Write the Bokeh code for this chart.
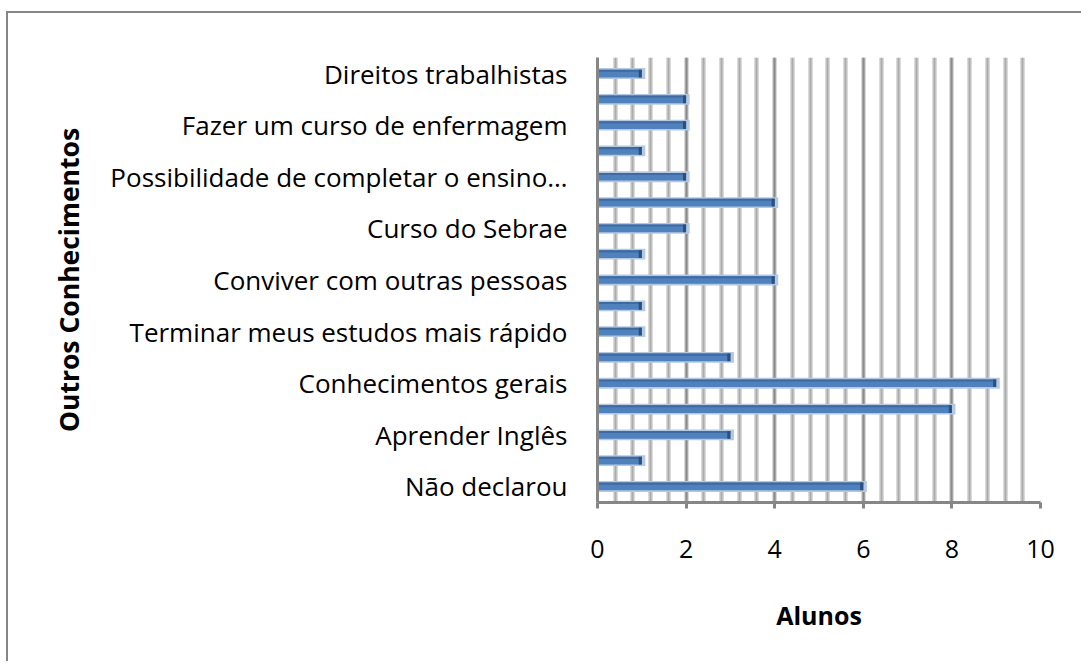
from bokeh.plotting import figure
from bokeh.models import FixedTicker, SingleIntervalTicker, Grid, ColumnDataSource
from bokeh.embed import file_html
from bokeh.resources import INLINE

# Categories from bottom to top (empty = label not shown in original)
categories = [
    "Não declarou", "", "Aprender Inglês", "", "Conhecimentos gerais", "",
    "Terminar meus estudos mais rápido", "", "Conviver com outras pessoas", "",
    "Curso do Sebrae", "", "Possibilidade de completar o ensino…", "",
    "Fazer um curso de enfermagem", "", "Direitos trabalhistas",
]
alunos = [6, 1, 3, 8, 9, 3, 1, 1, 4, 1, 2, 4, 2, 1, 2, 2, 1]
x_ticks = [0, 2, 4, 6, 8, 10]

pos = list(range(len(categories)))
src = ColumnDataSource(dict(
    y=pos,
    v=alunos,
    halo_r=[a + 0.08 for a in alunos],
    cap_l=[a - 0.07 for a in alunos],
    top_y=[p_ + 0.11 for p_ in pos],
))

FONT = "Open Sans"
W, H = 1075, 650
p = figure(width=W, height=H, output_backend="svg", toolbar_location=None,
           x_range=(0, 10), y_range=(-0.62, 16.62),
           min_border_left=589, min_border_right=43,
           min_border_top=44, min_border_bottom=161)
p.outline_line_color = None
p.background_fill_color = "white"
p.border_fill_color = "white"
p.styles = {"border-left": "2px solid #868686", "border-top": "2px solid #868686",
            "margin-top": "11px", "margin-left": "6px"}

# grids
p.ygrid.visible = False
p.xgrid[0].ticker = SingleIntervalTicker(interval=0.4, num_minor_ticks=0)
p.xgrid[0].grid_line_color = "#dadada"
p.xgrid[0].grid_line_width = 5
g2 = Grid(dimension=0, ticker=SingleIntervalTicker(interval=0.4, num_minor_ticks=0),
          grid_line_color="#ababab", grid_line_width=2)
g3 = Grid(dimension=0, ticker=FixedTicker(ticks=x_ticks),
          grid_line_color="#8a8a8a", grid_line_width=2)
p.add_layout(g2)
p.add_layout(g3)

# bars
p.hbar(y="y", left=0, right="halo_r", height=0.42, source=src,
       fill_color="#b4c8e2", line_color=None)
p.hbar(y="y", left=0, right="v", height=0.30, source=src,
       fill_color="#4f81bd", line_color=None)
p.hbar(y="top_y", left=0, right="v", height=0.08, source=src,
       fill_color="#3e6aa3", line_color=None)
p.hbar(y="y", left="cap_l", right="v", height=0.30, source=src,
       fill_color="#2c4f7c", line_color=None)

# x axis
xa = p.xaxis[0]
xa.ticker = FixedTicker(ticks=x_ticks)
xa.axis_line_color = "#868686"
xa.axis_line_width = 3
xa.major_tick_line_color = "#868686"
xa.major_tick_line_width = 3
xa.major_tick_out = 6
xa.major_tick_in = 0
xa.minor_tick_line_color = None
xa.major_label_standoff = 31
xa.major_label_text_font = FONT
xa.major_label_text_font_size = "25px"
xa.major_label_text_color = "#000000"
xa.axis_label = "Alunos"
xa.axis_label_text_font = FONT
xa.axis_label_text_font_size = "25px"
xa.axis_label_text_font_style = "bold"
xa.axis_label_text_color = "#000000"
xa.axis_label_standoff = 37

# y axis
ya = p.yaxis[0]
ya.ticker = FixedTicker(ticks=[i for i, c in enumerate(categories) if c])
ya.major_label_overrides = {i: c for i, c in enumerate(categories) if c}
ya.axis_line_color = "#868686"
ya.axis_line_width = 3
ya.major_tick_line_color = None
ya.minor_tick_line_color = None
ya.major_tick_out = 0
ya.major_tick_in = 0
ya.major_label_standoff = 30
ya.major_label_text_font = FONT
ya.major_label_text_font_size = "26px"
ya.major_label_text_color = "#000000"
ya.axis_label = "Outros Conhecimentos"
ya.axis_label_text_font = FONT
ya.axis_label_text_font_size = "26.5px"
ya.axis_label_text_font_style = "bold"
ya.axis_label_text_color = "#000000"
ya.axis_label_standoff = 20

open("out.html", "w").write(file_html(p, INLINE))
